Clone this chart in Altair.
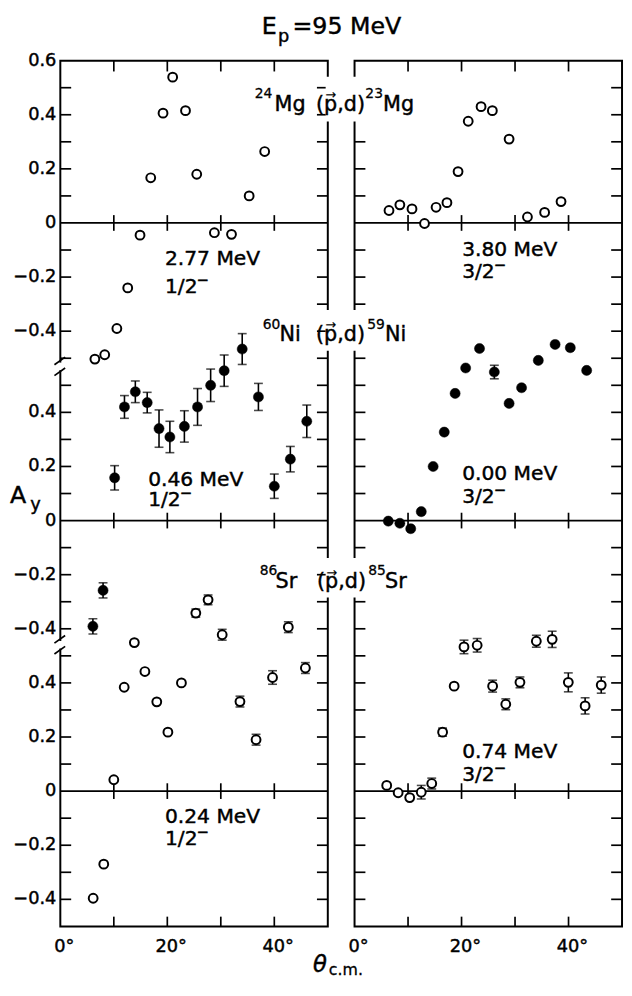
import altair as alt
import pandas as pd

# ---------------- layout constants (virtual coordinates) ----------------
X_OFF = 55.0                      # right column starts at this virtual angle
OFF = {"Mg": 2.1, "Ni": 1.0, "Sr": 0.0}   # vertical offset of each panel
U_MIN, U_MAX = -0.5, 2.7
COL_W = 50.0
COLS = {"L": 0.0, "R": X_OFF}

# ---------------- data (theta c.m. in degrees, A_y) ----------------
mg_l_theta = [6.46, 8.3, 10.57, 12.6, 14.9, 16.9, 19.2, 21.0, 23.4, 25.5, 28.8, 32.0, 35.3, 38.2]
mg_l_ay = [-0.503, -0.487, -0.39, -0.24, -0.045, 0.167, 0.406, 0.539, 0.415, 0.18, -0.036, -0.042, 0.10, 0.264]

mg_r_theta = [6.44, 8.47, 10.74, 13.08, 15.24, 17.27, 19.35, 21.25, 23.65, 25.76, 28.89, 32.32, 35.53, 38.6]
mg_r_ay = [0.046, 0.067, 0.052, -0.002, 0.058, 0.075, 0.19, 0.376, 0.43, 0.415, 0.31, 0.022, 0.039, 0.079]

ni_l_theta = [6.09, 7.99, 10.15, 11.99, 14.02, 16.24, 18.45, 20.48, 23.19, 25.65, 28.1, 30.63, 34.0, 37.03, 40.0, 43.0, 46.07]
ni_l_ay = [-0.391, -0.258, 0.158, 0.42, 0.476, 0.436, 0.34, 0.309, 0.348, 0.42, 0.50, 0.554, 0.634, 0.457, 0.127, 0.227, 0.367]
ni_l_err = [0.028, 0.028, 0.045, 0.042, 0.04, 0.038, 0.069, 0.058, 0.058, 0.068, 0.06, 0.058, 0.057, 0.05, 0.045, 0.047, 0.06]

ni_r_theta = [6.31, 8.47, 10.5, 12.47, 14.69, 16.77, 18.8, 20.77, 23.36, 26.13, 28.89, 31.22, 34.35, 37.49, 40.33, 43.39]
ni_r_ay = [-0.002, -0.01, -0.03, 0.033, 0.2, 0.327, 0.47, 0.564, 0.636, 0.549, 0.433, 0.491, 0.592, 0.651, 0.639, 0.555]
ni_r_err = [0, 0, 0, 0, 0, 0, 0, 0, 0, 0.025, 0, 0, 0, 0, 0, 0]

sr_l_theta = [6.14, 8.12, 10.0, 11.94, 13.84, 15.81, 18.03, 20.11, 22.64, 25.33, 27.62, 30.26, 33.58, 36.59, 39.67, 42.62, 45.81]
sr_l_ay = [-0.396, -0.27, 0.042, 0.384, 0.549, 0.442, 0.33, 0.218, 0.40, 0.658, 0.707, 0.578, 0.331, 0.19, 0.42, 0.606, 0.455]
sr_l_err = [0, 0, 0, 0, 0, 0, 0, 0, 0, 0.015, 0.018, 0.02, 0.02, 0.02, 0.025, 0.02, 0.02]

sr_r_theta = [6.01, 8.15, 10.31, 12.47, 14.43, 16.46, 18.62, 20.46, 22.92, 25.81, 28.27, 30.92, 33.98, 36.94, 39.96, 43.1, 46.11]
sr_r_ay = [0.021, -0.006, -0.024, -0.004, 0.028, 0.218, 0.388, 0.533, 0.539, 0.388, 0.321, 0.402, 0.554, 0.561, 0.402, 0.315, 0.392]
sr_r_err = [0, 0, 0, 0.025, 0.02, 0.015, 0, 0.025, 0.025, 0.022, 0.02, 0.02, 0.022, 0.03, 0.035, 0.03, 0.03]

# axis tick values
y_minor = {"Mg": [0.5, 0.4, 0.3, 0.2, 0.1, -0.1, -0.2, -0.3, -0.4, -0.5],
           "Ni": [0.5, 0.4, 0.3, 0.2, 0.1, -0.1, -0.2, -0.3, -0.4],
           "Sr": [0.5, 0.4, 0.3, 0.2, 0.1, -0.1, -0.2, -0.3, -0.4]}
y_labels = {"Mg": [0.6, 0.4, 0.2, 0.0, -0.2, -0.4],
            "Ni": [0.4, 0.2, 0.0, -0.2, -0.4],
            "Sr": [0.4, 0.2, 0.0, -0.2, -0.4]}
x_minor = [10, 20, 30, 40]
x_labels = [0, 20, 40]

# annotations: (panel, column, theta, A_y, text)
state_energy = [
    ("Mg", "L", 19.56, -0.154, "2.77 MeV"), ("Mg", "R", 20.11, -0.122, "3.80 MeV"),
    ("Ni", "L", 16.42, 0.126, "0.46 MeV"), ("Ni", "R", 20.11, 0.150, "0.00 MeV"),
    ("Sr", "L", 19.56, -0.116, "0.24 MeV"), ("Sr", "R", 20.11, 0.122, "0.74 MeV"),
]
state_spin = [
    ("Mg", "L", 19.56, -0.257, "1/2"), ("Mg", "R", 20.11, -0.202, "3/2"),
    ("Ni", "L", 16.42, 0.053, "1/2"), ("Ni", "R", 20.11, 0.066, "3/2"),
    ("Sr", "L", 19.56, -0.200, "1/2"), ("Sr", "R", 20.11, 0.038, "3/2"),
]
# reaction labels: main pieces and superscripts (panel, virtual theta, A_y, text)
react_main = [
    ("Mg", 40.04, 0.415, "Mg"), ("Mg", 47.79, 0.415, "(p,d)"), ("Mg", 60.34, 0.415, "Mg"),
    ("Ni", 40.97, 0.665, "Ni"), ("Ni", 47.79, 0.665, "(p,d)"), ("Ni", 60.71, 0.665, "Ni"),
    ("Sr", 40.22, 0.749, "Sr"), ("Sr", 47.98, 0.749, "(p,d)"), ("Sr", 60.71, 0.749, "Sr"),
]
react_sup = [
    ("Mg", 36.35, 0.462, "24"), ("Mg", 57.02, 0.462, "23"),
    ("Ni", 37.83, 0.709, "60"), ("Ni", 57.39, 0.709, "59"),
    ("Sr", 37.27, 0.797, "86"), ("Sr", 57.57, 0.797, "85"),
]
knockouts = [("Mg", 0.375, 0.540), ("Ni", 0.628, 0.778), ("Sr", 0.716, 0.862)]
breaks_u = [1.570, 0.541]
title_main = [("Mg", 37.64, 0.700, "E"), ("Mg", 43.4, 0.700, "=95 MeV")]
title_sub = [("Mg", 40.7, 0.668, "p")]
ylab_main = [("Ni", -9.41, 0.066, "A")]
ylab_sub = [("Ni", -5.6, 0.040, "y")]
xlab_main = [("Sr", 47.24, -0.667, "\u03b8")]
xlab_sub = [("Sr", 50.19, -0.681, "c.m.")]

FONT = "DejaVu Sans"
TLX = 2.03      # y-tick length in degrees
TLY = 0.040     # x-tick length in A_y units

# ---------------- build tables ----------------
def pts(panel, col, th, ay, err, filled):
    rows = []
    for i, (t, v) in enumerate(zip(th, ay)):
        e = err[i] if err else 0.0
        u = v + OFF[panel]
        rows.append(dict(X=t + COLS[col], U=u, lo=u - e, hi=u + e, err=e, filled=filled))
    return rows

rows = []
rows += pts("Mg", "L", mg_l_theta, mg_l_ay, None, False)
rows += pts("Mg", "R", mg_r_theta, mg_r_ay, None, False)
rows += pts("Ni", "L", ni_l_theta, ni_l_ay, ni_l_err, True)
rows += pts("Ni", "R", ni_r_theta, ni_r_ay, ni_r_err, True)
rows += pts("Sr", "L", sr_l_theta, sr_l_ay, sr_l_err, False)
rows += pts("Sr", "R", sr_r_theta, sr_r_ay, sr_r_err, False)
P = pd.DataFrame(rows)
E = P[P.err > 0]

frames = pd.DataFrame([dict(x0=c, x1=c + COL_W, y0=U_MIN, y1=U_MAX) for c in COLS.values()])
zeros = pd.DataFrame([dict(x0=c, x1=c + COL_W, y0=OFF[p], y1=OFF[p]) for c in COLS.values() for p in OFF])

tick_rows = []
for c in COLS.values():
    for p, vals in y_minor.items():
        for v in vals:
            u = v + OFF[p]
            tick_rows.append(dict(x0=c, x1=c + TLX, y0=u, y1=u))
            tick_rows.append(dict(x0=c + COL_W - TLX, x1=c + COL_W, y0=u, y1=u))
    for t in x_minor:
        tick_rows.append(dict(x0=c + t, x1=c + t, y0=U_MAX - TLY, y1=U_MAX))
        tick_rows.append(dict(x0=c + t, x1=c + t, y0=U_MIN, y1=U_MIN + TLY * 0.9))
        for p in OFF:
            tick_rows.append(dict(x0=c + t, x1=c + t, y0=OFF[p] - 0.029, y1=OFF[p] + 0.029))
ticks = pd.DataFrame(tick_rows)

ko = pd.DataFrame([dict(x0=COL_W - 0.4, x1=X_OFF + 2.3, y0=a + OFF[p], y1=b + OFF[p]) for p, a, b in knockouts])
brk_gap = pd.DataFrame([dict(x0=-1.6, x1=1.0, y0=b - 0.014, y1=b + 0.014) for b in breaks_u])
brk_lines = pd.DataFrame([r for b in breaks_u for r in (
    dict(x0=-1.1, x1=0.9, y0=b + 0.006, y1=b + 0.034),
    dict(x0=-1.1, x1=0.9, y0=b - 0.034, y1=b - 0.006))])

def fmt(v):
    if abs(v) < 1e-9:
        return "0"
    s = f"{abs(v):.1f}"
    return ("\u2212" + s) if v < 0 else s

ylab = pd.DataFrame([dict(X=0.0, U=v + OFF[p], t=fmt(v)) for p, vals in y_labels.items() for v in vals])
xlab = pd.DataFrame([dict(X=c + t, U=U_MIN, t=f"{t}\u00b0") for c in COLS.values() for t in x_labels])

def st(lst):
    return pd.DataFrame([dict(X=t + COLS[c], U=v + OFF[p], t=s) for p, c, t, v, s in lst])

def ann(lst):
    return pd.DataFrame([dict(X=x, U=v + OFF[p], t=s) for p, x, v, s in lst])

# ---------------- encodings ----------------
XS = alt.Scale(domain=[0, 105], nice=False, zero=False)
YS = alt.Scale(domain=[U_MIN, U_MAX], nice=False, zero=False)

def xy(xf="X", yf="U"):
    return dict(x=alt.X(xf, type="quantitative", scale=XS, axis=None),
                y=alt.Y(yf, type="quantitative", scale=YS, axis=None))

def seg(df, **kw):
    return alt.Chart(df).mark_rule(**kw).encode(
        **xy("x0", "y0"), x2=alt.X2("x1"), y2=alt.Y2("y1"))

def box(df, **kw):
    return alt.Chart(df).mark_rect(**kw).encode(
        **xy("x0", "y0"), x2=alt.X2("x1"), y2=alt.Y2("y1"))

def txt(df, size, sw=0.45, **kw):
    return alt.Chart(df).mark_text(font=FONT, fontSize=size, color="black",
                                   stroke="black", strokeWidth=sw, **kw).encode(
        **xy(), text="t:N")

spin = st(state_spin)
layers = [
    box(frames, fill="white", fillOpacity=0, stroke="black", strokeWidth=2),
    seg(zeros, color="black", strokeWidth=1.8),
    seg(ticks, color="black", strokeWidth=1.7),
    box(ko, fill="white", stroke="white", strokeWidth=0),
    box(brk_gap, fill="white", stroke="white", strokeWidth=0),
    seg(brk_lines, color="black", strokeWidth=1.7),
    txt(ylab, 18, align="right", baseline="middle", dx=-4),
    txt(xlab, 18, align="center", baseline="alphabetic", dx=4, dy=26),
    txt(st(state_energy), 20.5, align="left", baseline="alphabetic"),
    txt(spin, 20.5, align="left", baseline="alphabetic"),
    txt(spin.assign(t="\u2212"), 15, align="left", baseline="alphabetic", dx=32, dy=-8),
    txt(ann(react_main), 21, align="left", baseline="alphabetic"),
    txt(ann(react_main)[lambda d: d.t == "(p,d)"].assign(t="\u2192"), 13, sw=0.2,
        align="center", baseline="alphabetic", dx=15, dy=-12),
    txt(ann(react_sup), 14, sw=0.3, align="left", baseline="alphabetic"),
    txt(ann(title_main), 24, align="left", baseline="alphabetic"),
    txt(ann(title_sub), 18, align="left", baseline="alphabetic"),
    txt(ann(ylab_main), 24, align="left", baseline="alphabetic"),
    txt(ann(ylab_sub), 18, align="left", baseline="alphabetic"),
    txt(ann(xlab_main), 23, align="left", baseline="alphabetic", fontStyle="italic"),
    txt(ann(xlab_sub), 16, sw=0.3, align="left", baseline="alphabetic"),
    alt.Chart(E).mark_rule(color="black", strokeWidth=1.6).encode(**xy("X", "lo"), y2=alt.Y2("hi")),
    alt.Chart(E).mark_tick(orient="horizontal", color="black", size=9, thickness=1.6).encode(**xy("X", "lo")),
    alt.Chart(E).mark_tick(orient="horizontal", color="black", size=9, thickness=1.6).encode(**xy("X", "hi")),
    alt.Chart(P[~P.filled]).mark_point(shape="circle", filled=True, fill="white", stroke="black",
                                       strokeWidth=2, size=80, opacity=1).encode(**xy()),
    alt.Chart(P[P.filled]).mark_point(shape="circle", filled=True, fill="black", stroke="black",
                                      strokeWidth=0.5, size=105, opacity=1).encode(**xy()),
]

chart = alt.layer(*layers).properties(
    width=569, height=877,
    autosize=alt.AutoSizeParams(type="none"),
    padding={"left": 53, "top": 47, "right": 2, "bottom": 50},
).configure_view(stroke=None)

chart.save("out.html", embed_options={"renderer": "svg", "actions": False})
